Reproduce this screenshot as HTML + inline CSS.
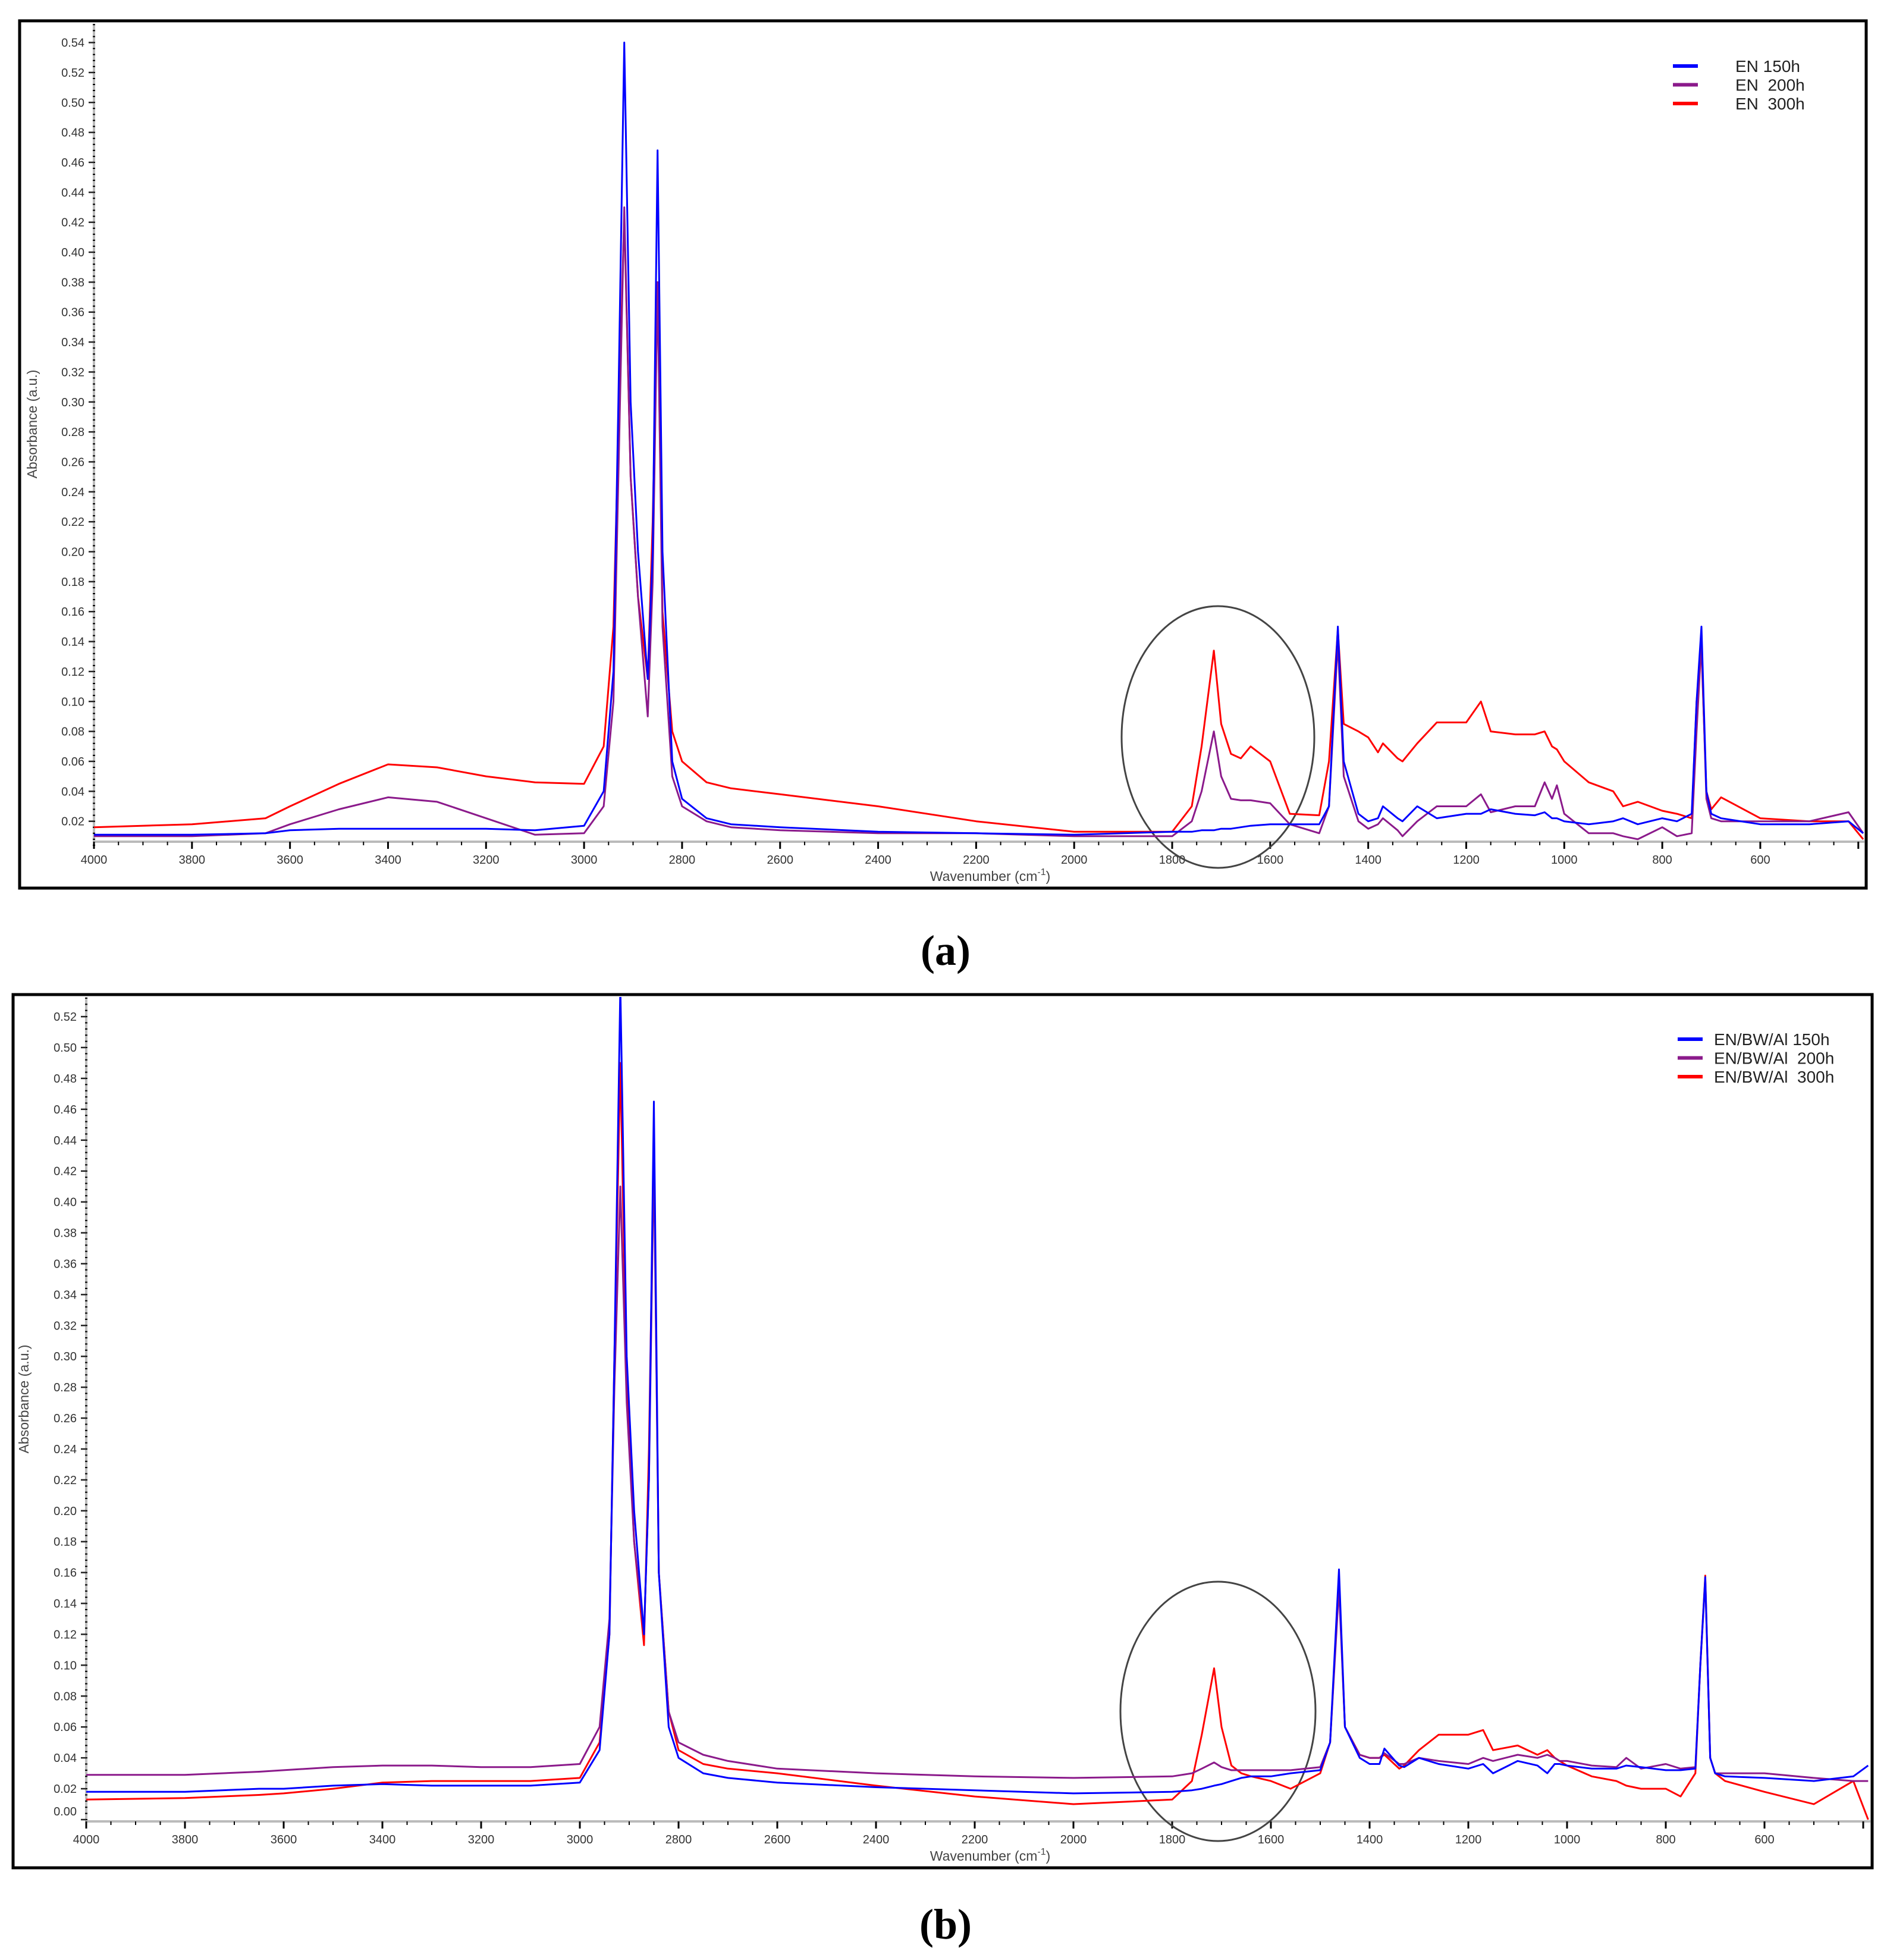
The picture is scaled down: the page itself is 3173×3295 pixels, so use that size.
<!DOCTYPE html>
<html><head><meta charset="utf-8"><style>
html,body{margin:0;padding:0;background:#fff;}
svg{display:block;font-family:"Liberation Sans",sans-serif;}
</style></head><body>
<svg id="fig" width="3173" height="3295" viewBox="0 0 3173 3295" xmlns="http://www.w3.org/2000/svg">
<rect x="0" y="0" width="3173" height="3295" fill="#fff"/>
<g id="panelA"></g>
<g id="panelB"></g>
<text x="1590" y="1622" font-family="Liberation Serif,serif" font-size="72" text-anchor="middle" font-weight="bold">(a)</text>
<text x="1590" y="3259" font-family="Liberation Serif,serif" font-size="72" text-anchor="middle" font-weight="bold">(b)</text>
</svg>
<script>
const wn = [4000,3800,3650,3600,3500,3400,3300,3200,3100,3000,2960,2940,2930,2918,2905,2890,2870,2860,2850,2840,2820,2800,2750,2700,2600,2400,2200,2000,1800,1760,1740,1715,1700,1680,1660,1640,1600,1560,1500,1480,1462,1450,1420,1400,1380,1370,1340,1330,1300,1260,1200,1170,1150,1100,1060,1040,1025,1015,1000,950,900,880,850,800,770,740,730,720,710,700,680,600,500,420,390];
const blueA = [.011,.011,.012,.014,.015,.015,.015,.015,.014,.017,.04,.12,.3,.54,.3,.2,.115,.2,.468,.2,.06,.035,.022,.018,.016,.013,.012,.011,.013,.013,.014,.014,.015,.015,.016,.017,.018,.018,.018,.03,.15,.06,.025,.02,.022,.03,.022,.02,.03,.022,.025,.025,.028,.025,.024,.026,.022,.022,.02,.018,.02,.022,.018,.022,.02,.025,.1,.15,.04,.025,.022,.018,.018,.02,.012];
const purpleA = [.01,.01,.012,.018,.028,.036,.033,.022,.011,.012,.03,.1,.25,.43,.25,.17,.09,.18,.38,.15,.05,.03,.02,.016,.014,.012,.012,.01,.01,.02,.04,.08,.05,.035,.034,.034,.032,.018,.012,.03,.14,.05,.02,.015,.018,.022,.014,.01,.02,.03,.03,.038,.026,.03,.03,.046,.035,.044,.025,.012,.012,.01,.008,.016,.01,.012,.08,.14,.035,.022,.02,.02,.02,.026,.012];
const redA = [.016,.018,.022,.03,.045,.058,.056,.05,.046,.045,.07,.15,.28,.425,.25,.17,.115,.22,.38,.16,.08,.06,.046,.042,.038,.03,.02,.013,.013,.03,.07,.134,.085,.065,.062,.07,.06,.025,.024,.06,.148,.085,.08,.076,.066,.072,.062,.06,.072,.086,.086,.1,.08,.078,.078,.08,.07,.068,.06,.046,.04,.03,.033,.027,.025,.022,.1,.135,.04,.028,.036,.022,.02,.02,.008];
const blueB = [.018,.018,.02,.02,.022,.023,.022,.022,.022,.024,.045,.12,.3,.54,.3,.2,.12,.22,.465,.16,.06,.04,.03,.027,.024,.021,.019,.017,.018,.019,.02,.022,.023,.025,.027,.028,.028,.03,.032,.05,.162,.06,.04,.036,.036,.046,.035,.034,.04,.036,.033,.036,.03,.038,.035,.03,.036,.036,.035,.033,.033,.035,.034,.032,.032,.033,.1,.157,.04,.03,.028,.027,.025,.028,.035];
const purpleB = [.029,.029,.031,.032,.034,.035,.035,.034,.034,.036,.06,.13,.28,.41,.27,.18,.12,.22,.43,.16,.07,.05,.042,.038,.033,.03,.028,.027,.028,.03,.033,.037,.034,.032,.032,.032,.032,.032,.034,.05,.15,.06,.042,.04,.04,.043,.036,.036,.04,.038,.036,.04,.038,.042,.04,.042,.04,.038,.038,.035,.034,.04,.033,.036,.033,.034,.1,.155,.04,.03,.03,.03,.027,.025,.025];
const redB = [.013,.014,.016,.017,.02,.024,.025,.025,.025,.027,.05,.12,.3,.49,.28,.18,.113,.24,.44,.16,.07,.045,.036,.033,.03,.022,.015,.01,.013,.025,.055,.098,.06,.035,.03,.028,.025,.02,.03,.05,.155,.06,.042,.04,.04,.042,.033,.035,.045,.055,.055,.058,.045,.048,.042,.045,.04,.038,.035,.028,.025,.022,.02,.02,.015,.03,.1,.158,.04,.03,.025,.018,.01,.025,0];
const xTicks = [4000,3800,3600,3400,3200,3000,2800,2600,2400,2200,2000,1800,1600,1400,1200,1000,800,600];
const yTicksA = [0.02,0.04,0.06,0.08,0.10,0.12,0.14,0.16,0.18,0.20,0.22,0.24,0.26,0.28,0.30,0.32,0.34,0.36,0.38,0.40,0.42,0.44,0.46,0.48,0.50,0.52,0.54];
const yTicksB = [0.00,0.02,0.04,0.06,0.08,0.10,0.12,0.14,0.16,0.18,0.20,0.22,0.24,0.26,0.28,0.30,0.32,0.34,0.36,0.38,0.40,0.42,0.44,0.46,0.48,0.50,0.52];
const legendA = ["EN 150h","EN  200h","EN  300h"];
const legendB = ["EN/BW/Al 150h","EN/BW/Al  200h","EN/BW/Al  300h"];
const colors = ["#0000ff","#8b1a8b","#ff0000"];
const NS="http://www.w3.org/2000/svg";
function mk(parent,tag,attrs){const e=document.createElementNS(NS,tag);for(const k in attrs)e.setAttribute(k,attrs[k]);parent.appendChild(e);return e;}

function panel(g,cfg){
  const xs=w=>cfg.x0+(4000-w)*cfg.kx;
  const ys=v=>cfg.y0-v*cfg.ky;
  const fr=mk(g,'rect',{x:cfg.fx,y:cfg.fy,width:cfg.fw,height:cfg.fh,fill:'none',stroke:'#000','stroke-width':5});
  
  
  const cid='clip'+cfg.id;
  const cp=mk(g,'clipPath',{id:cid});
  mk(cp,'rect',{x:cfg.x0,y:cfg.fy+4,width:cfg.fx+cfg.fw-cfg.x0-4,height:cfg.axY-cfg.fy-4});
  const ya=mk(g,'line',{x1:cfg.x0,y1:cfg.fy+5,x2:cfg.x0,y2:cfg.axY,stroke:'#bbb','stroke-width':4});
  
  
  for(let v=cfg.ymin;v<=cfg.ymax+1e-9;v+=0.004){
    const t=mk(g,'line',{x1:cfg.x0-2,y1:ys(v),x2:cfg.x0+2,y2:ys(v),stroke:'#000','stroke-width':2});
    
    
  }
  cfg.yt.forEach(v=>{
    const y=ys(v);
    const t=mk(g,'line',{x1:cfg.x0-9,y1:y,x2:cfg.x0,y2:y,stroke:'#222','stroke-width':2.5});
    
    
    const ly = (v===0)? y-14 : y;
    const l=mk(g,'text',{x:cfg.x0-16,y:ly+7,'font-size':20,'text-anchor':'end',fill:'#333'});
    l.textContent=v.toFixed(2);
    
    
  });
  const xa=mk(g,'line',{x1:cfg.x0,y1:cfg.axY,x2:cfg.fx+cfg.fw-3,y2:cfg.axY,stroke:'#bbb','stroke-width':4});
  
  
  for(let w=4000;w>=400;w-=50){
    const t=mk(g,'line',{x1:xs(w),y1:cfg.axY,x2:xs(w),y2:cfg.axY+(w%200===0?12:6),stroke:'#000','stroke-width':w%200===0?3:2});
    
    
  }
  xTicks.forEach(w=>{
    const l=mk(g,'text',{x:xs(w),y:cfg.axY+37,'font-size':20,'text-anchor':'middle',fill:'#333'});
    l.textContent=w;
    
    
  });
  const xt=mk(g,'text',{x:cfg.xtX,y:cfg.axY+66,'font-size':23,'text-anchor':'middle',fill:'#444'});
  xt.innerHTML='Wavenumber (cm<tspan dy="-10" font-size="16">-1</tspan><tspan dy="10">)</tspan>';
  
  
  const yt=mk(g,'text',{x:cfg.ytX,y:cfg.ytY,'font-size':23,'text-anchor':'middle',fill:'#444',transform:`rotate(-90 ${cfg.ytX} ${cfg.ytY})`});
  yt.textContent='Absorbance (a.u.)';
  
  
  const el=mk(g,'ellipse',{cx:cfg.ecx,cy:cfg.ecy,rx:cfg.erx,ry:cfg.ery,fill:'none',stroke:'#444','stroke-width':3});
  
  
  const sg=mk(g,'g',{'clip-path':`url(#${cid})`});
  
  
  const names=['series-150h','series-200h','series-300h'];
  [2,1,0].forEach(i=>{
    const d=cfg.series[i];
    const pts=wn.map((w,j)=>xs(w).toFixed(1)+','+ys(d[j]).toFixed(1)).join(' ');
    const p=mk(sg,'polyline',{points:pts,fill:'none',stroke:colors[i],'stroke-width':3,'stroke-linejoin':'round'});
    
    
  });
  cfg.leg.forEach((t,i)=>{
    const y=cfg.legY+i*31.5;
    const ln=mk(g,'line',{x1:cfg.legX,y1:y,x2:cfg.legX+42,y2:y,stroke:colors[i],'stroke-width':6});
    
    
    const tx=mk(g,'text',{x:cfg.legTX,y:y+10,'font-size':28,fill:'#222'});
    tx.setAttribute('style','white-space:pre');
    tx.textContent=t;
    
    
  });
}
panel(document.getElementById('panelA'),{id:'A',fx:33,fy:35,fw:3105,fh:1458,x0:158,kx:0.8241,y0:1431,ky:2517.5,axY:1415,
  ymin:0.004,ymax:0.552,yt:yTicksA,series:[blueA,purpleA,redA],xtX:1665,ytX:62,ytY:713,
  ecx:2048,ecy:1239,erx:162,ery:220,leg:legendA,legX:2813,legY:111,legTX:2918});
panel(document.getElementById('panelB'),{id:'B',fx:22,fy:1672,fw:3126,fh:1468,x0:145,kx:0.830,y0:3059,ky:2596,axY:3062,
  ymin:0.0,ymax:0.532,yt:yTicksB,series:[blueB,purpleB,redB],xtX:1665,ytX:48,ytY:2352,
  ecx:2048,ecy:2877,erx:164,ery:218,leg:legendB,legX:2821,legY:1747,legTX:2882});
</script>
</body></html>
